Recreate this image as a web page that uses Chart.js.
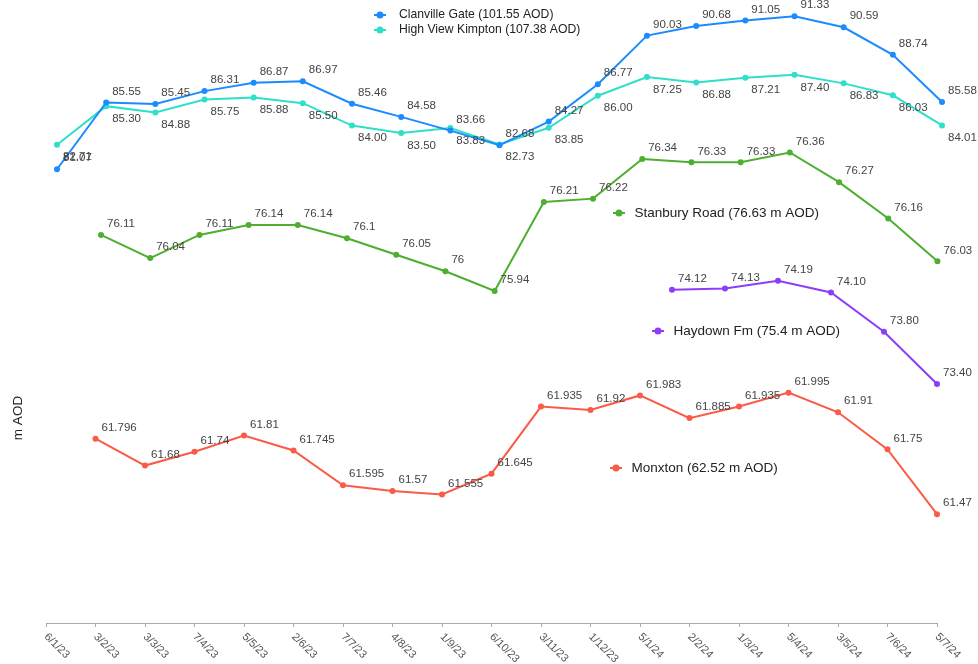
<!DOCTYPE html>
<html lang="en">
<head>
  <meta charset="UTF-8">
  <title>Groundwater levels</title>
  <script src="https://cdn.jsdelivr.net/npm/chart.js"></script>
  <style>
    body {
      margin: 0;
      background: #fff;
    }

    .chart-box {
      position: relative;
      width: 978px;
      height: 664px;
    }
  </style>
</head>
<body>
<div class="chart-box">
  <canvas id="levelsChart"></canvas>
</div>

<script>
  // sample dates (d/m/yy)
  var dates = ['6/1/23', '3/2/23', '3/3/23', '7/4/23', '5/5/23', '2/6/23', '7/7/23', '4/8/23', '1/9/23', '6/10/23',
               '3/11/23', '1/12/23', '5/1/24', '2/2/24', '1/3/24', '5/4/24', '3/5/24', '7/6/24', '5/7/24'];

  // water levels, m AOD
  var clanville = [81.07, 85.55, 85.45, 86.31, 86.87, 86.97, 85.46, 84.58, 83.66, 82.68,
                   84.27, 86.77, 90.03, 90.68, 91.05, 91.33, 90.59, 88.74, 85.58];
  var highView = [82.71, 85.30, 84.88, 85.75, 85.88, 85.50, 84.00, 83.50, 83.83, 82.73,
                  83.85, 86.00, 87.25, 86.88, 87.21, 87.40, 86.83, 86.03, 84.01];
  var stanbury = [null, 76.11, 76.04, 76.11, 76.14, 76.14, 76.1, 76.05, 76, 75.94,
                  76.21, 76.22, 76.34, 76.33, 76.33, 76.36, 76.27, 76.16, 76.03];
  var haydown = [null, null, null, null, null, null, null, null, null, null,
                 null, null, null, 74.12, 74.13, 74.19, 74.10, 73.80, 73.40];
  var monxton = [null, 61.796, 61.68, 61.74, 61.81, 61.745, 61.595, 61.57, 61.555, 61.645,
                 61.935, 61.92, 61.983, 61.885, 61.935, 61.995, 61.91, 61.75, 61.47];

  var FONT = '"Liberation Sans", Arial, sans-serif';

  // turn an index-aligned array into {x, y} points for the linear x scales
  function toPoints(arr) {
    var pts = [];
    arr.forEach(function (v, i) {
      if (v !== null) pts.push({x: i, y: v});
    });
    return pts;
  }

  function lineSet(label, data, color, xId, yId, extra) {
    var ds = {
      label: label,
      data: data,
      borderColor: color,
      backgroundColor: color,
      pointBackgroundColor: color,
      borderWidth: 2,
      pointRadius: 3,
      pointBorderWidth: 0,
      pointHoverRadius: 9,
      tension: 0,
      clip: false,
      xAxisID: xId,
      yAxisID: yId
    };
    return Object.assign(ds, extra || {});
  }

  // legend entries are placed next to their lines, like the original
  var legendSpots = [
    {ds: 0, x: 380, y: 15, size: 12.2},
    {ds: 1, x: 380, y: 30, size: 12.2},
    {ds: 2, x: 619, y: 213, size: 13.5},
    {ds: 3, x: 658, y: 331, size: 13.5},
    {ds: 4, x: 616, y: 468, size: 13.5}
  ];

  var pointLabels = {
    id: 'pointLabels',
    afterDatasetsDraw: function (chart) {
      var ctx = chart.ctx;
      ctx.save();
      ctx.font = '11.5px ' + FONT;
      ctx.fillStyle = '#444';
      ctx.textAlign = 'left';
      ctx.textBaseline = 'middle';
      chart.data.datasets.forEach(function (ds, i) {
        var meta = chart.getDatasetMeta(i);
        meta.data.forEach(function (pt, j) {
          var d = ds.data[j];
          var v = (d !== null && typeof d === 'object') ? d.y : d;
          if (v === null || v === undefined) return;
          var txt = ds.fixed2 ? v.toFixed(2) : String(v);
          ctx.fillText(txt, pt.x + 6, pt.y + (ds.labelBelow ? 12.5 : -11));
        });
      });
      ctx.restore();
    }
  };

  var sideLegend = {
    id: 'sideLegend',
    afterDraw: function (chart) {
      var ctx = chart.ctx;
      ctx.save();
      legendSpots.forEach(function (s) {
        var ds = chart.data.datasets[s.ds];
        ctx.strokeStyle = ds.borderColor;
        ctx.fillStyle = ds.borderColor;
        ctx.lineWidth = 2;
        ctx.beginPath();
        ctx.moveTo(s.x - 6, s.y);
        ctx.lineTo(s.x + 6, s.y);
        ctx.stroke();
        ctx.beginPath();
        ctx.arc(s.x, s.y, 3.5, 0, Math.PI * 2);
        ctx.fill();
        ctx.fillStyle = '#222';
        ctx.font = s.size + 'px ' + FONT;
        ctx.textAlign = 'left';
        ctx.textBaseline = 'middle';
        ctx.fillText(ds.label, s.x + (s.size > 13 ? 15.5 : 19), s.y);
      });

      // axis title
      ctx.translate(18, 418);
      ctx.rotate(-Math.PI / 2);
      ctx.font = '13.5px ' + FONT;
      ctx.fillStyle = '#222';
      ctx.textAlign = 'center';
      ctx.textBaseline = 'middle';
      ctx.fillText('m AOD', 0, 0);
      ctx.restore();
    }
  };

  // date labels slant down to the right from each tick
  var slantedTicks = {
    id: 'slantedTicks',
    afterDraw: function (chart) {
      var scale = chart.scales.x;
      var ctx = chart.ctx;
      ctx.save();
      ctx.font = '11px ' + FONT;
      ctx.fillStyle = '#555';
      ctx.textAlign = 'left';
      ctx.textBaseline = 'middle';
      dates.forEach(function (lbl, i) {
        var px = scale.getPixelForTick(i);
        ctx.save();
        ctx.translate(px, scale.top + 12);
        ctx.rotate(Math.PI / 4);
        ctx.fillText(lbl, 0, 0);
        ctx.restore();
      });
      ctx.restore();
    }
  };

  var ctx = document.getElementById('levelsChart').getContext('2d');
  var levelsChart = new Chart(ctx, {
    type: 'line',
    data: {
      labels: dates,
      datasets: [
        lineSet('Clanville Gate (101.55 AOD)', toPoints(clanville), '#1A8CFF', 'xa', 'ya', {fixed2: true}),
        lineSet('High View Kimpton (107.38 AOD)', toPoints(highView), '#2EE0C8', 'xa', 'ya', {fixed2: true, labelBelow: true}),
        lineSet('Stanbury Road (76.63 m AOD)', toPoints(stanbury), '#4EAE30', 'xb', 'yb'),
        lineSet('Haydown Fm (75.4 m AOD)', toPoints(haydown), '#8B3DF7', 'xc', 'yc', {fixed2: true}),
        lineSet('Monxton (62.52 m AOD)', monxton, '#FA5B47', 'x', 'yd')
      ]
    },
    options: {
      responsive: true,
      maintainAspectRatio: false,
      animation: false,
      events: [],
      layout: {
        autoPadding: false,
        padding: {left: 46, right: 41, top: 0, bottom: 37}
      },
      plugins: {
        legend: {display: false},
        tooltip: {enabled: false}
      },
      scales: {
        x: {
          type: 'category',
          offset: false,
          ticks: {display: false},
          grid: {drawOnChartArea: false, drawTicks: true, tickLength: 4, color: '#aaa'},
          border: {display: true, color: '#aaa'}
        },
        xa: {type: 'linear', display: false, min: -0.2237, max: 17.898},
        xb: {type: 'linear', display: false, min: -0.1179, max: 17.991},
        xc: {type: 'linear', display: false, min: 1.189, max: 18.0},
        ya: {type: 'linear', display: false, min: 50.64, max: 92.42},
        yb: {type: 'linear', display: false, min: 74.934, max: 76.822},
        yc: {type: 'linear', display: false, min: 71.573, max: 76.336},
        yd: {type: 'linear', display: false, min: 61.0, max: 63.691}
      }
    },
    plugins: [pointLabels, sideLegend, slantedTicks]
  });
</script>
</body>
</html>
